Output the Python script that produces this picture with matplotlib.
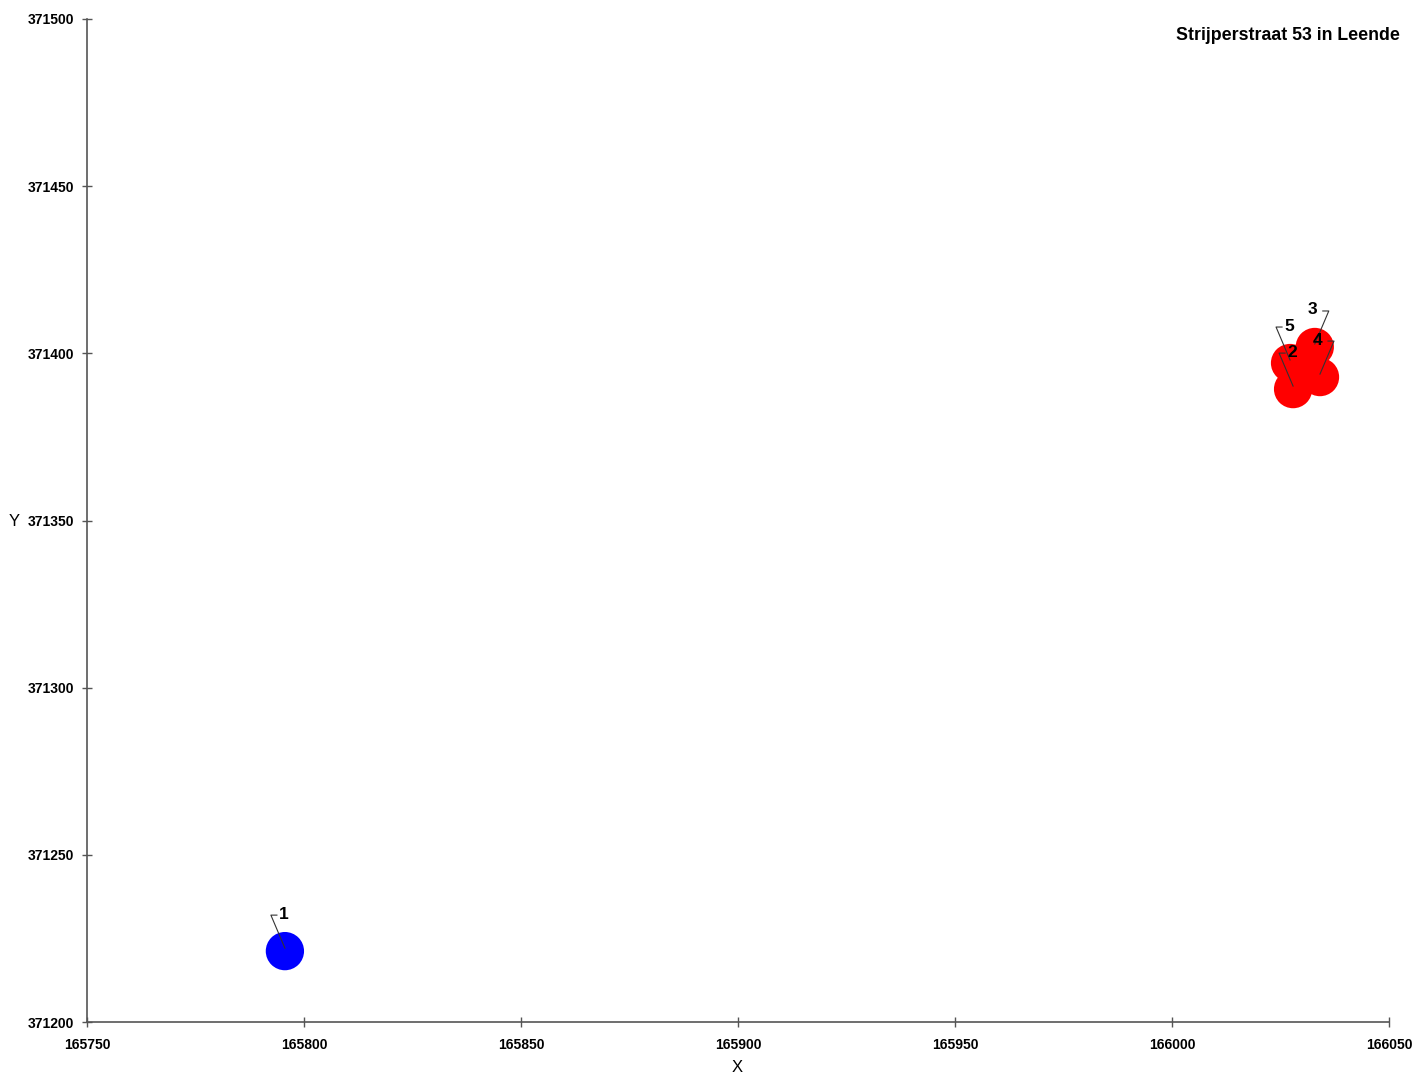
import matplotlib
matplotlib.use("Agg")
import matplotlib.pyplot as plt

plt.rcParams['font.family'] = ['Liberation Sans', 'DejaVu Sans']

point_ids = ["1", "2", "3", "4", "5"]
x_vals = [165795.6, 166027.9, 166032.9, 166034.1, 166027.2]
y_vals = [371221.2, 371389.3, 371401.9, 371392.9, 371397.1]
point_colors = ["#0000ff", "#ff0000", "#ff0000", "#ff0000", "#ff0000"]
label_side = ["left", "left", "right", "right", "left"]
x_ticks = [165750, 165800, 165850, 165900, 165950, 166000, 166050]
y_ticks = [371200, 371250, 371300, 371350, 371400, 371450, 371500]
title = "Strijperstraat 53 in Leende"

W, H, DPI = 1414, 1077, 100
fig = plt.figure(figsize=(W / DPI, H / DPI), dpi=DPI)
ax = fig.add_axes([87 / W, 1 - 1022 / H, (1389 - 87) / W, (1022 - 19) / H])
ax.set_xlim(x_ticks[0], x_ticks[-1])
ax.set_ylim(y_ticks[0], y_ticks[-1])

ax.scatter(x_vals, y_vals, s=760, c=point_colors, edgecolors='none', zorder=3)

ax.set_xticks(x_ticks)
ax.set_yticks(y_ticks)
ax.set_xticklabels([str(t) for t in x_ticks], fontsize=10, fontweight='bold')
ax.set_yticklabels([str(t) for t in y_ticks], fontsize=10, fontweight='bold')
ax.tick_params(direction='inout', length=7, width=1, colors='#555555', pad=6)
ax.tick_params(axis='x', pad=8)
for lab in ax.get_xticklabels() + ax.get_yticklabels():
    lab.set_color('black')
for s in ['top', 'right']:
    ax.spines[s].set_visible(False)
for s in ['left', 'bottom']:
    ax.spines[s].set_color('#555555')
    ax.spines[s].set_linewidth(1.2)

fig.text(737 / W, 1 - 1068 / H, "X", ha='center', va='center', fontsize=12)
fig.text(14 / W, 1 - 521 / H, "Y", ha='center', va='center', fontsize=12)
fig.text(1400 / W, 1 - 36 / H, title, ha='right', va='center', fontsize=12.8, fontweight='bold')

inv = ax.transData.inverted()
for pid, x, y, side in zip(point_ids, x_vals, y_vals, label_side):
    px, py = ax.transData.transform((x, y))
    sgn = -1 if side == "left" else 1
    corner = (px + sgn * 14, py + 36)
    end = (px + sgn * 8, py + 36)
    pts = inv.transform([(px, py + 3), corner, end])
    ax.plot(pts[:, 0], pts[:, 1], color='#333333', lw=0.8, zorder=4, clip_on=False)
    tx, ty = inv.transform((px - 1 if side == "left" else px - 2, py + 37))
    ax.text(tx, ty, pid, ha='center', va='center', fontsize=12.5, fontweight='bold', zorder=5)

fig.savefig("out.png", dpi=DPI)
